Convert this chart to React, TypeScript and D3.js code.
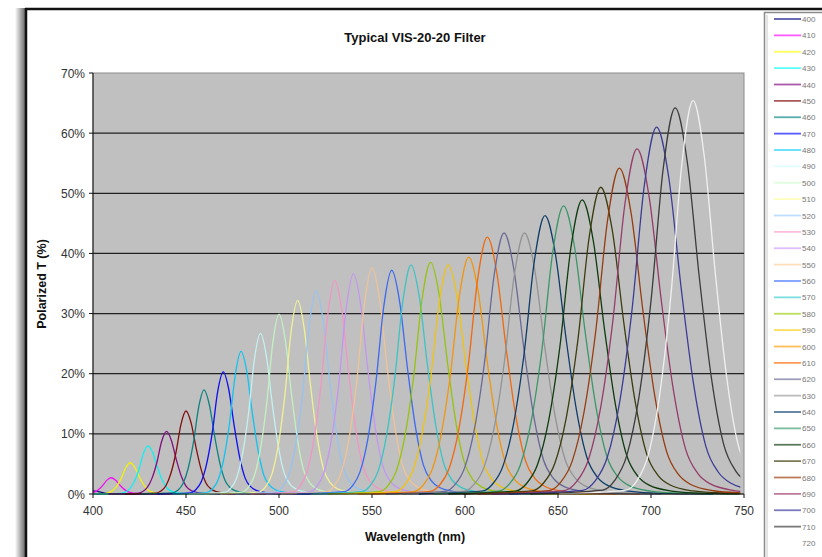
import { useEffect, useRef } from "react";
import * as d3 from "d3";

// filter names (nominal centre wavelength, nm)
const filters = [400, 410, 420, 430, 440, 450, 460, 470, 480, 490, 500, 510, 520, 530, 540, 550,
  560, 570, 580, 590, 600, 610, 620, 630, 640, 650, 660, 670, 680, 690, 700, 710, 720];
const peakNm = [400, 409.7, 420, 429.6, 439.5, 450, 459.7, 470, 479.6, 490, 500, 510, 520, 530, 540, 550,
  560.6, 571, 581.5, 591, 602, 612, 621, 632, 643, 653, 663, 673, 683, 692.5, 703, 713, 722.6];
// peak transmission (%)
const peakT = [0.5, 2.7, 5.2, 8.0, 10.4, 13.8, 17.3, 20.3, 23.7, 26.7, 29.9, 32.2, 33.8, 35.5, 36.6, 37.6,
  37.2, 38.1, 38.5, 38.1, 39.4, 42.7, 43.4, 43.4, 46.3, 47.9, 48.9, 51.0, 54.2, 57.4, 61.0, 64.2, 65.4];
// full width at half max (nm)
const fwhm = [9, 9.3, 9.6, 10, 10.4, 10.8, 11.3, 11.8, 12.3, 12.8, 13.3, 13.9, 14.5, 15.1, 15.7, 16.3,
  17, 17.7, 18.4, 19.1, 19.8, 20.5, 21.2, 21.9, 22.6, 23.3, 24, 24.7, 25.4, 26.1, 26.5, 26, 24];
// band shape: offset from peak in FWHM units -> fraction of peak
const shapeOffset = [-3, -1.5, -1.25, -1, -0.75, -0.5, -0.25, 0, 0.25, 0.5, 0.75, 1, 1.25, 1.5, 2, 2.5, 4];
const shapeLevel = [0, 0.01, 0.035, 0.1, 0.25, 0.5, 0.84, 1, 0.86, 0.56, 0.3, 0.13, 0.06, 0.03, 0.01, 0.004, 0];

const colors = ["#000080", "#FF00FF", "#FFFF00", "#00FFFF", "#800080", "#800000", "#008080", "#0000FF",
  "#00CCFF", "#CCFFFF", "#CCFFCC", "#FFFF99", "#99CCFF", "#FF99CC", "#CC99FF", "#FFCC99", "#3366FF",
  "#33CCCC", "#99CC00", "#FFCC00", "#FF9900", "#FF6600", "#666699", "#969696", "#003366", "#339966",
  "#003300", "#333300", "#993300", "#993366", "#333399", "#333333", "#FFFFFF"];

const yTicks = [0, 10, 20, 30, 40, 50, 60, 70];
const xTicks = [400, 450, 500, 550, 600, 650, 700, 750];

export default function App() {
  const ref = useRef(null);

  useEffect(() => {
    const width = 822;
    const height = 557;
    const svg = d3.select(ref.current).attr("width", width).attr("height", height);
    svg.selectAll("*").remove();

    const font = "'Liberation Sans', Arial, sans-serif";
    const x = d3.scaleLinear().domain([400, 750]).range([93, 744]);
    const y = d3.scaleLinear().domain([0, 70]).range([494, 73]);

    // page frame
    svg.append("rect").attr("width", width).attr("height", height).attr("fill", "#fff");
    const grad = svg.append("defs").append("linearGradient").attr("id", "edge");
    grad.append("stop").attr("offset", "0%").attr("stop-color", "#fff");
    grad.append("stop").attr("offset", "100%").attr("stop-color", "#6a6a6a");
    svg.append("rect").attr("x", 15).attr("y", 8).attr("width", 10).attr("height", height)
      .attr("fill", "url(#edge)");
    svg.append("line").attr("x1", 26).attr("x2", 26).attr("y1", 8).attr("y2", height)
      .attr("stroke", "#111").attr("stroke-width", 2.5);
    svg.append("line").attr("x1", 25).attr("x2", width).attr("y1", 9).attr("y2", 9)
      .attr("stroke", "#111").attr("stroke-width", 2.5);

    // plot area
    svg.append("rect").attr("x", x(400)).attr("y", y(70)).attr("width", x(750) - x(400))
      .attr("height", y(0) - y(70)).attr("fill", "#c0c0c0").attr("stroke", "#8c8c8c");

    svg.append("g").selectAll("line").data(yTicks.filter(d => d > 0 && d < 70)).join("line")
      .attr("x1", x(400)).attr("x2", x(750)).attr("y1", d => y(d)).attr("y2", d => y(d))
      .attr("stroke", "#222").attr("stroke-width", 1.3);

    svg.append("clipPath").attr("id", "plot").append("rect")
      .attr("x", x(400)).attr("y", y(70)).attr("width", x(748) - x(400)).attr("height", y(0) - y(70) + 2);

    const line = d3.line().x(d => x(d[0])).y(d => y(d[1])).curve(d3.curveMonotoneX);
    const series = filters.map((f, i) =>
      shapeOffset.map((o, k) => [peakNm[i] + o * fwhm[i], peakT[i] * shapeLevel[k]]));

    svg.append("g").attr("clip-path", "url(#plot)").selectAll("path").data(series).join("path")
      .attr("d", d => line(d))
      .attr("fill", "none")
      .attr("stroke", (_, i) => d3.interpolateRgb(colors[i], "#808080")(0.12))
      .attr("stroke-width", 1.3);

    // axes
    const axisColor = "#111";
    svg.append("line").attr("x1", x(400)).attr("x2", x(400)).attr("y1", y(70)).attr("y2", y(0))
      .attr("stroke", axisColor);
    svg.append("line").attr("x1", x(400)).attr("x2", x(750)).attr("y1", y(0)).attr("y2", y(0))
      .attr("stroke", axisColor);
    svg.append("g").selectAll("line").data(yTicks).join("line")
      .attr("x1", x(400) - 4).attr("x2", x(400)).attr("y1", d => y(d)).attr("y2", d => y(d))
      .attr("stroke", axisColor);
    svg.append("g").selectAll("line").data(xTicks).join("line")
      .attr("x1", d => x(d)).attr("x2", d => x(d)).attr("y1", y(0)).attr("y2", y(0) + 4)
      .attr("stroke", axisColor);

    svg.append("g").selectAll("text").data(yTicks).join("text")
      .attr("x", x(400) - 8).attr("y", d => y(d) + 4.5)
      .attr("text-anchor", "end").attr("font-family", font).attr("font-size", 12).attr("fill", "#333")
      .text(d => d + "%");
    svg.append("g").selectAll("text").data(xTicks).join("text")
      .attr("x", d => x(d)).attr("y", y(0) + 21)
      .attr("text-anchor", "middle").attr("font-family", font).attr("font-size", 12).attr("fill", "#333")
      .text(d => d);

    svg.append("text").attr("x", 415).attr("y", 42).attr("text-anchor", "middle")
      .attr("font-family", font).attr("font-size", 13).attr("font-weight", "bold").attr("fill", "#111")
      .text("Typical VIS-20-20 Filter");
    svg.append("text").attr("x", 415).attr("y", 541).attr("text-anchor", "middle")
      .attr("font-family", font).attr("font-size", 12.5).attr("font-weight", "bold").attr("fill", "#111")
      .text("Wavelength (nm)");
    svg.append("text").attr("transform", "translate(46,284) rotate(-90)").attr("text-anchor", "middle")
      .attr("font-family", font).attr("font-size", 12.5).attr("font-weight", "bold").attr("fill", "#111")
      .text("Polarized T (%)");

    // legend
    svg.append("rect").attr("x", 764.5).attr("y", 12.5).attr("width", 70).attr("height", 560)
      .attr("fill", "#fff").attr("stroke", "#8a8a8a").attr("stroke-width", 1.5);
    svg.append("line").attr("x1", 767).attr("x2", 767).attr("y1", 15).attr("y2", height)
      .attr("stroke", "#c8c8c8");
    const ly = d3.scalePoint().domain(filters.map(String)).range([19, 543]);
    const items = svg.append("g").selectAll("g").data(filters).join("g")
      .attr("transform", d => `translate(0,${ly(String(d))})`);
    items.append("line").attr("x1", 774).attr("x2", 801).attr("y1", 0).attr("y2", 0)
      .attr("stroke", (_, i) => d3.interpolateRgb(colors[i], "#ffffff")(0.35)).attr("stroke-width", 1.8);
    items.append("text").attr("x", 802).attr("y", 3).attr("font-family", font).attr("font-size", 8)
      .attr("fill", "#777").text(d => d);
  }, []);

  return <svg ref={ref} style={{ position: "absolute", left: 0, top: 0 }}></svg>;
}
